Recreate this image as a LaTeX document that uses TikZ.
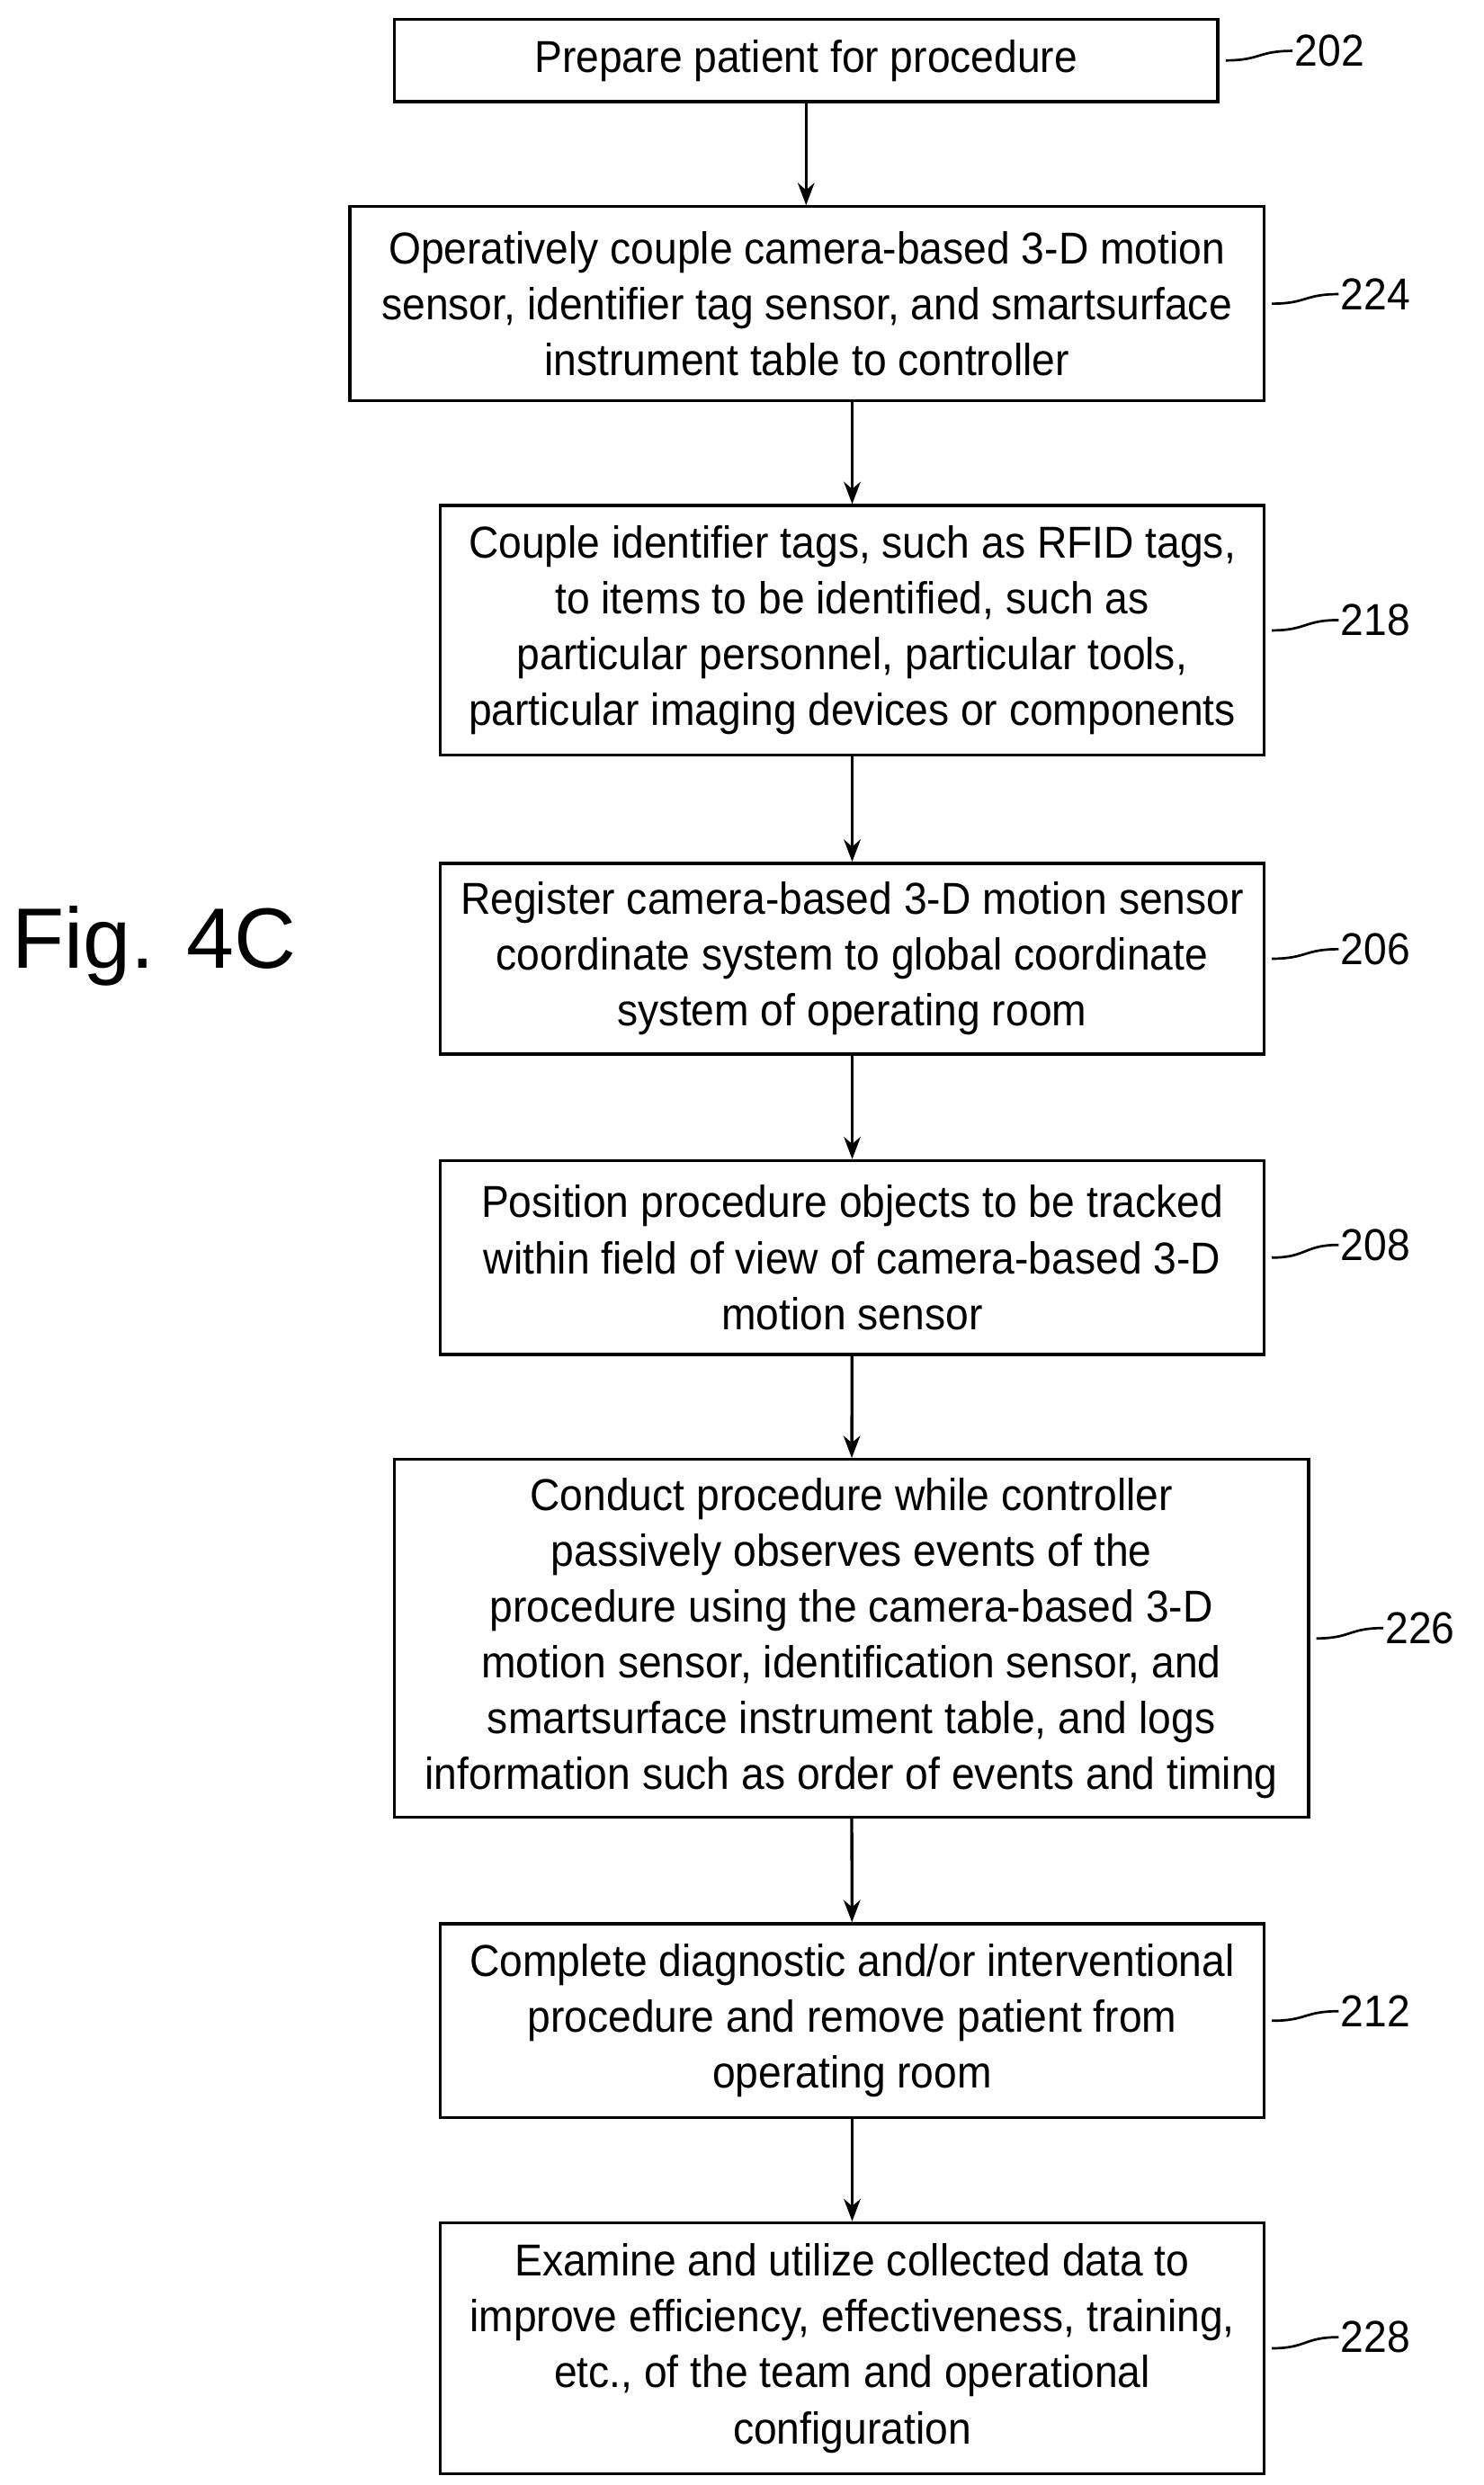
\documentclass[tikz,border=0pt]{standalone}
\usepackage{fontspec}
\setmainfont{Liberation Sans}[FakeStretch=0.93]
\newfontfamily\figfont{Liberation Sans}
\usetikzlibrary{arrows.meta}

\begin{document}
\begin{tikzpicture}[x=0.03cm,y=-0.03cm,
		procstep/.style={draw, line width=1.6pt, align=center, inner sep=0pt,
			font=\fontsize{24}{30}\selectfont},
		refnum/.style={font=\fontsize{24}{28}\selectfont, anchor=west, inner sep=1pt},
		flow/.style={-{Stealth[length=12pt,width=9pt]}, line width=1.6pt},
		lead/.style={line width=1.3pt}]
		\useasboundingbox (0,0) rectangle (933,1563);
		\node (fig) at (97,595) {\figfont\fontsize{46}{50}\selectfont Fig. 4C};
		% boxes
		\node[procstep, minimum width=518*0.03cm, minimum height=52*0.03cm] (s202) at (507,38) {Prepare patient for procedure};
		\node[procstep, minimum width=575*0.03cm, minimum height=122*0.03cm] (s224) at (507.5,191) {Operatively couple camera-based 3-D motion\\sensor, identifier tag sensor, and smartsurface\\instrument table to controller};
		\node[procstep, minimum width=518*0.03cm, minimum height=157*0.03cm] (s218) at (536,396.5) {Couple identifier tags, such as RFID tags,\\to items to be identified, such as\\particular personnel, particular tools,\\particular imaging devices or components};
		\node[procstep, minimum width=518*0.03cm, minimum height=120*0.03cm] (s206) at (536,603) {Register camera-based 3-D motion sensor\\coordinate system to global coordinate\\system of operating room};
		\node[procstep, minimum width=518*0.03cm, minimum height=122*0.03cm] (s208) at (536,791) {Position procedure objects to be tracked\\within field of view of camera-based 3-D\\motion sensor};
		\node[procstep, minimum width=575*0.03cm, minimum height=225*0.03cm] (s226) at (535.5,1030.5) {Conduct procedure while controller\\passively observes events of the\\procedure using the camera-based 3-D\\motion sensor, identification sensor, and\\smartsurface instrument table, and logs\\information such as order of events and timing};
		\node[procstep, minimum width=518*0.03cm, minimum height=122*0.03cm] (s212) at (536,1271) {Complete diagnostic and/or interventional\\procedure and remove patient from\\operating room};
		\node[procstep, minimum width=518*0.03cm, minimum height=158*0.03cm] (s228) at (536,1477) {Examine and utilize collected data to\\improve efficiency, effectiveness, training,\\etc., of the team and operational\\configuration};
		% reference numerals
		\node[refnum] (n202) at (813,32) {202};
		\node[refnum] (n224) at (842,185) {224};
		\node[refnum] (n218) at (842,390) {218};
		\node[refnum] (n206) at (842,597) {206};
		\node[refnum] (n208) at (842,783) {208};
		\node[refnum] (n226) at (870,1024) {226};
		\node[refnum] (n212) at (842,1265) {212};
		\node[refnum] (n228) at (842,1470) {228};
		\foreach \s in {202,224,218,206,208,226,212,228}
			\draw[lead] (s\s.east) ++(4,0) coordinate (c\s)
				.. controls +(22,0) and +(-22,0) .. (n\s.west);
		% arrows
		\draw[flow] (s202) -- (s202.south |- s224.north);
		\draw[flow] (s224.south -| s218.north) -- (s218);
		\draw[flow] (s218) -- (s206);
		\draw[flow] (s206) -- (s208);
		\draw[flow] (s208) -- (s226);
		\draw[flow] (s226) -- (s212);
		\draw[flow] (s212) -- (s228);
\end{tikzpicture}
\end{document}
